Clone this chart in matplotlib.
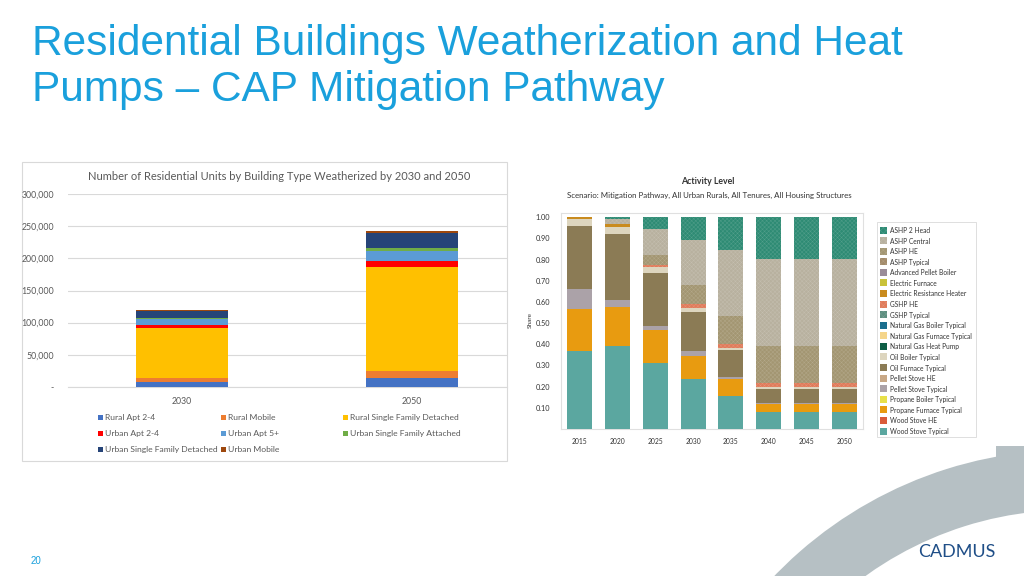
"""
Slide: Residential buildings weatherization and heat pumps - CAP mitigation pathway.
"""

import matplotlib
matplotlib.use("Agg")
import matplotlib.pyplot as plt
from matplotlib.patches import Rectangle, Wedge

W, H = 1024, 576

# ---- left chart data (units weatherized) ----
years_left = ["2030", "2050"]
unit_types = [
    "Rural Apt 2-4", "Rural Mobile", "Rural Single Family Detached",
    "Urban Apt 2-4", "Urban Apt 5+", "Urban Single Family Attached",
    "Urban Single Family Detached", "Urban Mobile",
]
unit_colors = ["#4472C4", "#ED7D31", "#FFC000", "#FF0000",
               "#5B9BD5", "#70AD47", "#264478", "#9E480E"]
rural_apt_24 = [7700, 13400]
rural_mobile = [6800, 10900]
rural_sfd = [77400, 163000]
urban_apt_24 = [4100, 8800]
urban_apt_5 = [9800, 15500]
urban_sfa = [1500, 5100]
urban_sfd = [11400, 23300]
urban_mobile = [1500, 3000]
unit_values = [rural_apt_24, rural_mobile, rural_sfd, urban_apt_24,
               urban_apt_5, urban_sfa, urban_sfd, urban_mobile]

# ---- right chart data (share of heating technology) ----
years_right = ["2015", "2020", "2025", "2030", "2035", "2040", "2045", "2050"]
techs = [
    "ASHP 2 Head", "ASHP Central", "ASHP HE", "ASHP Typical",
    "Advanced Pellet Boiler", "Electric Furnace", "Electric Resistance Heater",
    "GSHP HE", "GSHP Typical", "Natural Gas Boiler Typical",
    "Natural Gas Furnace Typical", "Natural Gas Heat Pump", "Oil Boiler Typical",
    "Oil Furnace Typical", "Pellet Stove HE", "Pellet Stove Typical",
    "Propane Boiler Typical", "Propane Furnace Typical", "Wood Stove HE",
    "Wood Stove Typical",
]
tech_colors = [
    "#2E8B74", "#B8B19F", "#A39672", "#A38B6A",
    "#9A8C98", "#C9C23A", "#C98B1E",
    "#E07B5A", "#5E8F80", "#1A6E8E",
    "#F5D58A", "#0E5E45", "#DDD5BE",
    "#8B7B55", "#C8A886", "#ABA2A8",
    "#E8E04A", "#E89B10", "#D95B3A",
    "#5BA7A0",
]
hatched = {"ASHP 2 Head", "ASHP Central", "ASHP HE", "ASHP Typical",
           "GSHP HE", "GSHP Typical"}

ashp_2_head = [0.0, 0.010, 0.057, 0.107, 0.155, 0.199, 0.199, 0.199]
ashp_central = [0.0, 0.023, 0.121, 0.213, 0.312, 0.409, 0.409, 0.409]
ashp_he = [0.0, 0.0, 0.048, 0.091, 0.133, 0.174, 0.174, 0.174]
elec_resistance = [0.010, 0.011, 0.0, 0.0, 0.0, 0.0, 0.0, 0.0]
gshp_he = [0.0, 0.0, 0.011, 0.019, 0.017, 0.022, 0.022, 0.022]
oil_boiler = [0.030, 0.035, 0.025, 0.016, 0.011, 0.008, 0.008, 0.008]
oil_furnace = [0.299, 0.312, 0.251, 0.186, 0.126, 0.063, 0.063, 0.063]
pellet_stove_typical = [0.095, 0.032, 0.020, 0.023, 0.012, 0.008, 0.008, 0.008]
propane_furnace = [0.197, 0.185, 0.153, 0.110, 0.078, 0.036, 0.036, 0.036]
wood_stove_typical = [0.369, 0.392, 0.314, 0.235, 0.156, 0.081, 0.081, 0.081]

shares = {
    "ASHP 2 Head": ashp_2_head,
    "ASHP Central": ashp_central,
    "ASHP HE": ashp_he,
    "Electric Resistance Heater": elec_resistance,
    "GSHP HE": gshp_he,
    "Oil Boiler Typical": oil_boiler,
    "Oil Furnace Typical": oil_furnace,
    "Pellet Stove Typical": pellet_stove_typical,
    "Propane Furnace Typical": propane_furnace,
    "Wood Stove Typical": wood_stove_typical,
}

plt.rcParams["hatch.linewidth"] = 0.3


def px_axes(fig, x0, y0, x1, y1, **kw):
    return fig.add_axes([x0 / W, 1 - y1 / H, (x1 - x0) / W, (y1 - y0) / H], **kw)


def lighten(hex_color, amt=0.35):
    r, g, b = matplotlib.colors.to_rgb(hex_color)
    return (r + (1 - r) * amt, g + (1 - g) * amt, b + (1 - b) * amt)


fig = plt.figure(figsize=(W / 100, H / 100), dpi=100)
fig.patch.set_facecolor("white")

# background overlay in pixel coordinates for slide decorations
bg = px_axes(fig, 0, 0, W, H)
bg.set_xlim(0, W)
bg.set_ylim(H, 0)
bg.axis("off")

# gray arc in lower right corner
bg.add_patch(Wedge((1070, 860), 410, 205, 300, width=60,
                   facecolor="#B6C0C4", edgecolor="none"))
bg.add_patch(Rectangle((996, 446), 28, 14, facecolor="#B6C0C4", edgecolor="none"))

# slide title
title_kw = dict(color="#1AA0DC", fontsize=30.5, family="Liberation Sans", va="baseline")
bg.text(32, 55, "Residential Buildings Weatherization and Heat", **title_kw)
bg.text(32, 101, "Pumps \u2013 CAP Mitigation Pathway", **title_kw)

bg.text(31, 561, "20", color="#1AA0DC", fontsize=7, family="Liberation Sans", va="center")
bg.text(957, 552, "CADMUS", color="#1F4E87", fontsize=13, family="Lato",
        ha="center", va="center")

# left chart frame
bg.add_patch(Rectangle((22, 162), 485, 299, facecolor="white",
                       edgecolor="#D9D9D9", linewidth=0.8))
bg.text(279, 177, "Number of Residential Units by Building Type Weatherized by 2030 and 2050",
        ha="center", va="center", fontsize=8.0, color="#595959", family="Lato")

# left chart legend (row-major like Excel)
leg_cols = [98, 221, 343]
leg_rows = [417, 433, 449]
for i, (name, col) in enumerate(zip(unit_types, unit_colors)):
    lx = leg_cols[i % 3]
    ly = leg_rows[i // 3]
    bg.add_patch(Rectangle((lx, ly - 2.5), 5, 5, facecolor=col, edgecolor="none"))
    bg.text(lx + 7, ly, name, va="center_baseline", fontsize=6.1, color="#595959",
            family="Lato")

# left chart axes
axl = px_axes(fig, 68, 194, 507, 387)
x_left = range(len(years_left))
bottom = [0, 0]
for name, col, vals in zip(unit_types, unit_colors, unit_values):
    axl.bar(x_left, vals, width=0.4, bottom=bottom, color=col, label=name, zorder=3)
    bottom = [b + v for b, v in zip(bottom, vals)]
axl.set_xlim(-0.496, 1.413)
axl.set_ylim(0, 300000)
axl.set_yticks(range(0, 300001, 50000))
axl.set_yticklabels(["-"] + [f"{v:,}" for v in range(50000, 300001, 50000)])
axl.set_xticks(list(x_left))
axl.set_xticklabels(years_left)
axl.grid(axis="y", color="#D9D9D9", linewidth=0.8, zorder=0)
for s in ["top", "right", "left"]:
    axl.spines[s].set_visible(False)
axl.spines["bottom"].set_color("#D9D9D9")
axl.tick_params(axis="both", length=0, labelsize=6.3, labelcolor="#595959")
axl.tick_params(axis="y", pad=10)
axl.tick_params(axis="x", pad=7)
for lbl in axl.get_xticklabels() + axl.get_yticklabels():
    lbl.set_family("Lato")
axl.patch.set_alpha(0)

# right chart titles
bg.text(708, 182, "Activity Level", ha="center", va="center", fontsize=6.3,
        color="#333333", family="Lato", fontweight="bold")
bg.text(709, 195, "Scenario: Mitigation Pathway, All Urban Rurals, All Tenures, All Housing Structures",
        ha="center", va="center", fontsize=5.7, color="#333333", family="Lato")
bg.text(530, 320, "Share", rotation=90, ha="center", va="center", fontsize=4.6,
        color="#333333", family="Lato")

# right chart axes
axr = px_axes(fig, 561, 213, 863, 429)
x_right = list(range(len(years_right)))
bottom = [0.0] * len(years_right)
for name, col in zip(techs[::-1], tech_colors[::-1]):
    vals = shares.get(name)
    if vals is None:
        continue
    if name in hatched:
        axr.bar(x_right, vals, width=0.66, bottom=bottom, color=col, hatch="xxxxxxxx",
                edgecolor=lighten(col, 0.18), linewidth=0, zorder=3)
    else:
        axr.bar(x_right, vals, width=0.66, bottom=bottom, color=col, linewidth=0, zorder=3)
    bottom = [b + v for b, v in zip(bottom, vals)]
axr.set_xlim(-0.5, 7.5)
axr.set_ylim(0, 1.02)
axr.set_yticks([i / 10 for i in range(1, 11)])
axr.set_yticklabels([f"{i / 10:.2f}" for i in range(1, 11)])
axr.set_xticks(x_right)
axr.set_xticklabels(years_right)
for s in axr.spines.values():
    s.set_color("#E0E0E0")
    s.set_linewidth(0.8)
axr.tick_params(axis="both", length=0, labelcolor="#333333")
axr.tick_params(axis="y", labelsize=5.3, pad=8)
axr.tick_params(axis="x", labelsize=4.9, pad=6.5)
for lbl in axr.get_xticklabels() + axr.get_yticklabels():
    lbl.set_family("Lato")

# right chart legend
bg.add_patch(Rectangle((877, 222), 99, 215, facecolor="white",
                       edgecolor="#D9D9D9", linewidth=0.6))
for i, (name, col) in enumerate(zip(techs, tech_colors)):
    ly = 230 + i * 10.58
    if name in hatched:
        bg.add_patch(Rectangle((880, ly - 3.5), 7, 7, facecolor=col, hatch="xxxxxx",
                               edgecolor=lighten(col, 0.18), linewidth=0))
    else:
        bg.add_patch(Rectangle((880, ly - 3.5), 7, 7, facecolor=col, edgecolor="none"))
    bg.text(890, ly, name, va="center_baseline", fontsize=4.75, color="#333333",
            family="Lato")

fig.savefig("out.png", dpi=100, facecolor="white")
